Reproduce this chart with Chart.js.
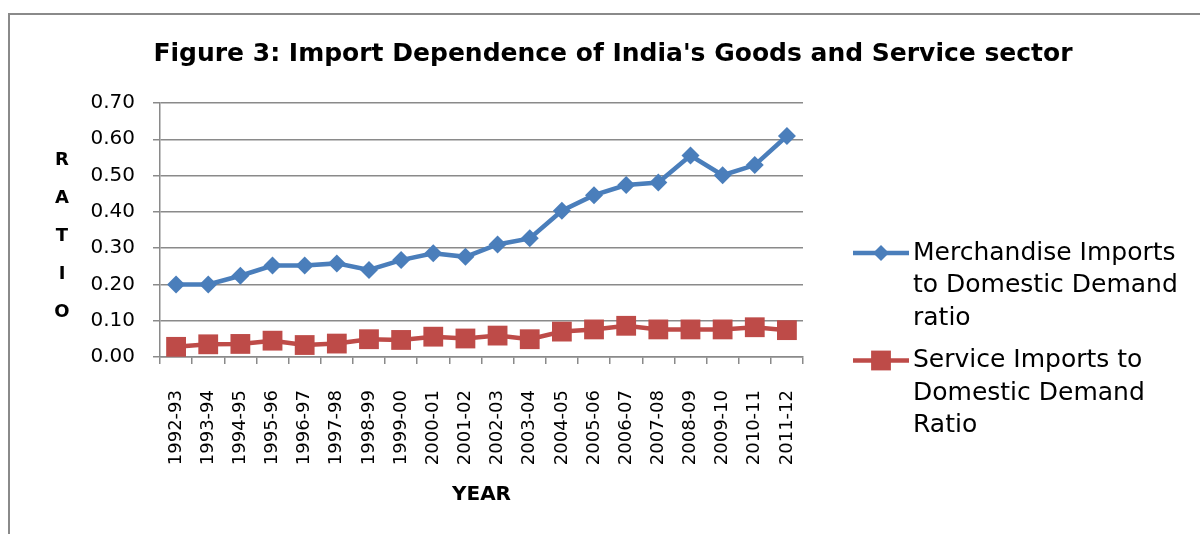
<!DOCTYPE html>
<html>
<head>
<meta charset="utf-8">
<script src="https://cdn.jsdelivr.net/npm/chart.js@4/dist/chart.umd.min.js"></script>
<style>
  html, body { margin: 0; padding: 0; background: #fff; }
  #wrap { position: relative; width: 1200px; height: 534px; }
  #frame {
    position: absolute; left: 8px; top: 13px; right: -4px; bottom: -4px;
    border-top: 2px solid #8a8a8a; border-left: 2px solid #8a8a8a;
    pointer-events: none;
  }
  canvas { position: absolute; left: 0; top: 0; }
</style>
</head>
<body>
<div id="wrap">
  <canvas id="imports" width="1200" height="534"></canvas>
  <div id="frame"></div>
</div>
<script>
const years = ['1992-93', '1993-94', '1994-95', '1995-96', '1996-97', '1997-98', '1998-99',
  '1999-00', '2000-01', '2001-02', '2002-03', '2003-04', '2004-05', '2005-06', '2006-07',
  '2007-08', '2008-09', '2009-10', '2010-11', '2011-12'];

const merchandise = [0.20, 0.20, 0.224, 0.252, 0.252, 0.258, 0.24, 0.267, 0.286, 0.276,
  0.31, 0.327, 0.403, 0.446, 0.474, 0.481, 0.555, 0.501, 0.529, 0.609];

const services = [0.028, 0.035, 0.036, 0.045, 0.033, 0.037, 0.049, 0.047, 0.056, 0.051,
  0.059, 0.049, 0.07, 0.076, 0.086, 0.076, 0.076, 0.076, 0.082, 0.074];

const titleText = "Figure 3: Import Dependence of India's Goods and Service sector";
const yTitle = 'RATIO';
const xTitle = 'YEAR';

const font = 'DejaVu Sans';
const gridColour = '#8a8a8a';

// title across the whole figure, stacked y title, x title
const chartTexts = {
  id: 'chartTexts',
  afterDraw(chart) {
    const { ctx, chartArea } = chart;
    ctx.save();
    ctx.fillStyle = '#000';
    ctx.textAlign = 'center';
    ctx.textBaseline = 'middle';
    ctx.font = 'bold 25px "' + font + '"';
    ctx.fillText(titleText, 613, 54);
    ctx.font = 'bold 18px "' + font + '"';
    yTitle.split('').forEach((ch, i) => {
      ctx.fillText(ch, 62, 160 + i * 38);
    });
    ctx.font = 'bold 20px "' + font + '"';
    ctx.fillText(xTitle, (chartArea.left + chartArea.right) / 2, 495);
    ctx.restore();
  }
};

const wrappedLegend = {
  id: 'wrappedLegend',
  afterDraw(chart) {
    const { ctx } = chart;
    const x0 = 853, x1 = 909, tx = 913, maxW = 285, lh = 32.5;
    let y = 253;
    ctx.save();
    ctx.font = '25px "' + font + '"';
    chart.data.datasets.forEach(ds => {
      ctx.strokeStyle = ds.borderColor;
      ctx.lineWidth = ds.borderWidth;
      ctx.beginPath();
      ctx.moveTo(x0, y);
      ctx.lineTo(x1, y);
      ctx.stroke();
      ctx.fillStyle = ds.backgroundColor;
      Chart.helpers.drawPoint(ctx, {
        pointStyle: ds.pointStyle,
        radius: ds.legendRadius,
        borderWidth: 0
      }, (x0 + x1) / 2, y);

      const words = ds.label.split(' ');
      const lines = [];
      let line = '';
      words.forEach(w => {
        const test = line ? line + ' ' + w : w;
        if (ctx.measureText(test).width > maxW && line) {
          lines.push(line);
          line = w;
        } else {
          line = test;
        }
      });
      lines.push(line);

      ctx.fillStyle = '#000';
      ctx.textAlign = 'left';
      ctx.textBaseline = 'middle';
      lines.forEach((l, i) => ctx.fillText(l, tx, y + i * lh));
      y += lines.length * lh + 10;
    });
    ctx.restore();
  }
};

const ctx = document.getElementById('imports').getContext('2d');

new Chart(ctx, {
  type: 'line',
  data: {
    labels: years,
    datasets: [{
      label: 'Merchandise Imports to Domestic Demand ratio',
      data: merchandise,
      borderColor: '#4a7ebb',
      backgroundColor: '#4a7ebb',
      borderWidth: 4.5,
      pointStyle: 'rectRot',
      pointRadius: 9,
      pointBorderWidth: 0,
      legendRadius: 8,
      tension: 0
    }, {
      label: 'Service Imports to Domestic Demand Ratio',
      data: services,
      borderColor: '#be4b48',
      backgroundColor: '#be4b48',
      borderWidth: 4.5,
      pointStyle: 'rect',
      pointRadius: 14,
      pointBorderWidth: 0,
      legendRadius: 14,
      tension: 0
    }]
  },
  options: {
    responsive: false,
    animation: false,
    events: [],
    layout: { padding: { left: 0, right: 397, top: 103, bottom: 0 } },
    plugins: {
      legend: { display: false },
      tooltip: { enabled: false },
      title: { display: false }
    },
    scales: {
      x: {
        offset: true,
        grid: {
          display: true,
          drawOnChartArea: false,
          drawTicks: true,
          tickLength: 7,
          offset: true,
          color: gridColour,
          lineWidth: 1.5
        },
        border: { color: gridColour, width: 1.5 },
        ticks: {
          color: '#000',
          font: { family: font, size: 18 },
          minRotation: 90,
          maxRotation: 90,
          autoSkip: false,
          padding: 26
        },
        afterFit(scale) { scale.height = 177; }
      },
      y: {
        min: 0,
        max: 0.7,
        grid: { color: gridColour, lineWidth: 1.5, tickLength: 7 },
        border: { color: gridColour, width: 1.5 },
        ticks: {
          stepSize: 0.1,
          color: '#000',
          font: { family: font, size: 20 },
          padding: 18,
          callback: v => v.toFixed(2)
        },
        afterFit(scale) { scale.width = 160; }
      }
    }
  },
  plugins: [chartTexts, wrappedLegend]
});
</script>
</body>
</html>
